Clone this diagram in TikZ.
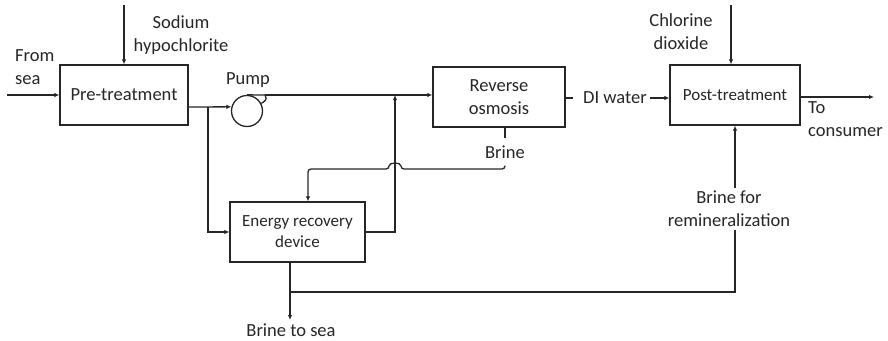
\documentclass[tikz,border=0pt]{standalone}
\usepackage{fontspec}
\setmainfont{Carlito}
\usetikzlibrary{arrows.meta}
\tikzset{
  unit/.style={draw, line width=1.3pt, minimum height=60pt, align=center, font=\fontsize{18.5}{23}\selectfont},
  smallunit/.style={unit, font=\fontsize{17}{21}\selectfont},
  lbl/.style={align=center, inner sep=3pt, font=\fontsize{18.5}{23}\selectfont},
  pipe/.style={line width=1.3pt},
  flow/.style={pipe, -{Latex[length=5pt,width=4.5pt]}}
}
\begin{document}
\begin{tikzpicture}[x=1pt,y=-1pt,color=black!85]
  \useasboundingbox (0,0) rectangle (888,340);
  \node[unit, minimum width=128pt] (pre) at (124,95) {Pre-treatment};
  \node[unit, minimum width=132pt] (ro) at (499,97) {Reverse\\osmosis};
  \node[smallunit, minimum width=130pt] (post) at (735,95) {Post-treatment};
  \node[smallunit, minimum width=135pt] (erd) at (297.5,232) {Energy recovery\\device};
  \node[draw, circle, pipe, minimum size=31pt, inner sep=0pt] (pump) at (247,111) {};

  \node[lbl, align=left, anchor=west] (sea) at (12,67) {From\\sea};
  \node[lbl] (naocl) at (181,35) {Sodium\\hypochlorite};
  \node[lbl] (pumplbl) at (248,80) {Pump};
  \node[lbl, inner sep=7pt] (brine) at (505,152) {Brine};
  \node[lbl] (di) at (615,98) {DI water};
  \node[lbl] (clo2) at (681,32) {Chlorine\\dioxide};
  \node[lbl, align=left, anchor=north west] (cons) at (805,98) {To\\consumer};
  \node[lbl] (remin) at (729,209) {Brine for\\remineralization};
  \node[lbl] (tosea) at (291,330) {Brine to sea};

  \coordinate (seain) at (7,95);
  \coordinate (naocltop) at (124,5);
  \coordinate (j1) at (208,107);
  \coordinate (pumpout) at (265,95);
  \coordinate (j2) at (395,95);
  \coordinate (hopr) at (401,169);
  \coordinate (hopl) at (389,169);
  \coordinate (erdin) at (308,169);
  \coordinate (j3) at (290,292);
  \coordinate (seaout) at (290,320);
  \coordinate (clo2top) at (731,5);
  \coordinate (consout) at (874,97);

  \draw[flow] (seain) -- (pre.west);
  \draw[flow] (naocltop) -- (pre.north);
  \draw[flow] (pre.east |- j1) -- (pump.165.5);
  \draw[pipe] (pump.north) -- (pumpout) .. controls +(3,5) and +(3,-2) .. (pump.28);
  \draw[flow] (pumpout) -- (ro.west |- pumpout);
  \draw[flow] (j1) |- (erd.west);
  \draw[flow] (erd.east) -| (j2);
  \draw[pipe] (ro.south -| brine) -- (brine.north);
  \draw[flow, rounded corners=3pt] (brine.south) |- (hopr) .. controls +(0,-7) and +(0,-7) .. (hopl) -- (erdin) -- (erdin |- erd.north);
  \draw[pipe] (ro.east |- di) -- ++(7,0);
  \draw[flow] (di.east) -- (post.west |- di);
  \draw[flow] (clo2top) -- (clo2top |- post.north);
  \draw[flow] (post.east |- consout) -- (consout);
  \draw[flow] (seaout |- erd.south) -- (seaout);
  \draw[pipe] (j3) -| (remin.south -| post.south);
  \draw[flow] (remin.north -| post.south) -- (post.south);
\end{tikzpicture}
\end{document}
